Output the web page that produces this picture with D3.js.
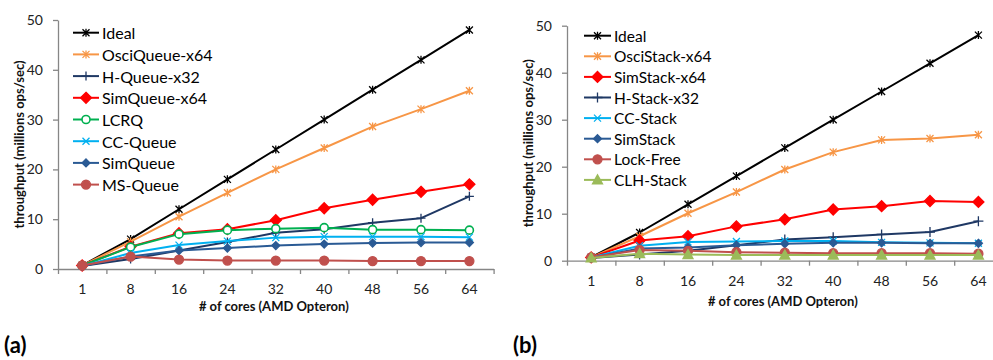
<!DOCTYPE html>
<html>
<head>
<meta charset="utf-8">
<script src="https://cdn.jsdelivr.net/npm/d3@7"></script>
<style>
  body { margin: 0; background: #fff; }
  text { font-family: Lato, "Open Sans", sans-serif; }
</style>
</head>
<body>
<svg id="chart" width="993" height="360"></svg>
<script>
// shared categories / ticks
const cores = ["1", "8", "16", "24", "32", "40", "48", "56", "64"];
const yTicks = [0, 10, 20, 30, 40, 50];

// (a) queues
const queueNames = ["Ideal", "OsciQueue-x64", "H-Queue-x32", "SimQueue-x64", "LCRQ", "CC-Queue", "SimQueue", "MS-Queue"];
const idealQ     = [0.75, 6, 12, 18, 24, 30, 36, 42, 48];
const osciQueue  = [0.7, 5.5, 10.5, 15.3, 20.0, 24.3, 28.6, 32.1, 35.8];
const hQueue     = [0.6, 2.0, 3.7, 5.4, 7.3, 8.0, 9.3, 10.2, 14.6];
const simQueue64 = [0.7, 4.5, 7.2, 8.0, 9.8, 12.2, 13.9, 15.5, 17.0];
const lcrq       = [0.7, 4.4, 7.0, 7.8, 8.1, 8.3, 7.9, 7.9, 7.8];
const ccQueue    = [0.6, 3.2, 4.8, 5.6, 6.3, 6.5, 6.5, 6.5, 6.4];
const simQueue   = [0.6, 2.5, 3.7, 4.2, 4.7, 5.0, 5.2, 5.3, 5.3];
const msQueue    = [0.7, 2.5, 1.9, 1.7, 1.7, 1.7, 1.6, 1.6, 1.6];

// (b) stacks
const stackNames = ["Ideal", "OsciStack-x64", "SimStack-x64", "H-Stack-x32", "CC-Stack", "SimStack", "Lock-Free", "CLH-Stack"];
const idealS     = [0.75, 6, 12, 18, 24, 30, 36, 42, 48];
const osciStack  = [0.7, 5.2, 10.1, 14.6, 19.4, 23.1, 25.7, 26.0, 26.8];
const simStack64 = [0.7, 4.3, 5.2, 7.3, 8.8, 10.9, 11.6, 12.7, 12.5];
const hStack     = [0.6, 1.3, 2.1, 3.3, 4.5, 5.0, 5.6, 6.1, 8.4];
const ccStack    = [0.7, 3.2, 4.0, 4.1, 4.2, 4.2, 3.9, 3.8, 3.7];
const simStack   = [0.6, 2.6, 2.8, 3.3, 3.6, 3.8, 3.8, 3.7, 3.7];
const lockFree   = [0.7, 2.3, 2.1, 1.8, 1.7, 1.6, 1.6, 1.6, 1.5];
const clhStack   = [0.6, 1.5, 1.3, 1.2, 1.2, 1.2, 1.2, 1.2, 1.2];

// styles (colour, marker, marker half-size, filled?)
const queueStyles = [
  { c: "#000000", m: "star", s: 3.5 },
  { c: "#F79646", m: "star", s: 3.5 },
  { c: "#1F3864", m: "plus", s: 4.5 },
  { c: "#FF0000", m: "diamond", s: 5.5, fill: true },
  { c: "#00B050", m: "circle", s: 4, fill: "#fff" },
  { c: "#00B0F0", m: "cross", s: 3.5 },
  { c: "#2A5A94", m: "diamond", s: 4, fill: true },
  { c: "#C0504D", m: "circle", s: 4.5, fill: true }
];
const stackStyles = [
  { c: "#000000", m: "star", s: 3.5 },
  { c: "#F79646", m: "star", s: 3.5 },
  { c: "#FF0000", m: "diamond", s: 5.5, fill: true },
  { c: "#1F3864", m: "plus", s: 5 },
  { c: "#00B0F0", m: "cross", s: 3.5 },
  { c: "#2A5A94", m: "diamond", s: 4, fill: true },
  { c: "#C0504D", m: "circle", s: 4.5, fill: true },
  { c: "#9BBB59", m: "triangle", s: 5, fill: true }
];

const svg = d3.select("#chart");
svg.append("rect").attr("width", 993).attr("height", 360).attr("fill", "#fff");

function markerPath(type, s) {
  switch (type) {
    case "star":
      return `M${-s},${-s}L${s},${s}M${-s},${s}L${s},${-s}M0,${-s - 0.5}V${s + 0.5}`;
    case "plus":
      return `M${-s},0H${s}M0,${-s}V${s}`;
    case "cross":
      return `M${-s},${-s}L${s},${s}M${-s},${s}L${s},${-s}`;
    case "diamond":
      return `M0,${-s}L${s},0L0,${s}L${-s},0Z`;
    case "triangle":
      return `M0,${-s}L${s},${s * 0.8}L${-s},${s * 0.8}Z`;
    case "circle":
      return d3.symbol(d3.symbolCircle, Math.PI * s * s)();
  }
}

function drawMarker(g, st, x, y) {
  g.append("path")
    .attr("transform", `translate(${x},${y})`)
    .attr("d", markerPath(st.m, st.s))
    .attr("fill", st.fill === true ? st.c : (st.fill || "none"))
    .attr("stroke", st.c)
    .attr("stroke-width", st.m === "circle" && st.fill !== true ? 1.6 : 1.3);
}

function drawPanel(p) {
  const g = svg.append("g");

  const x = d3.scaleBand().domain(cores).range([p.x0, p.x0 + cores.length * p.step]);
  const y = d3.scaleLinear().domain([0, 50]).range([p.yBottom, p.yTop]);

  // y axis
  const ya = g.append("g")
    .attr("transform", `translate(${p.x0},0)`)
    .call(d3.axisLeft(y).tickValues(yTicks).tickSize(5).tickSizeOuter(0).tickPadding(10));
  ya.selectAll("path, line").attr("stroke", "#868686").attr("stroke-width", 1.3);
  ya.selectAll("text").attr("font-size", 14).attr("fill", "#222")
    .attr("font-family", "Lato, sans-serif");

  // x axis: labels at band centres, ticks at band borders
  const xa = g.append("g")
    .attr("transform", `translate(0,${p.yBottom})`)
    .call(d3.axisBottom(x).tickSize(0).tickSizeOuter(0).tickPadding(p.labelPad));
  xa.select(".domain").attr("stroke", "#868686").attr("stroke-width", 1.3);
  xa.selectAll("text").attr("font-size", 14).attr("fill", "#222")
    .attr("font-family", "Lato, sans-serif");
  const border = d3.scaleLinear().domain([0, cores.length]).range(x.range());
  const xb = g.append("g")
    .attr("transform", `translate(0,${p.yBottom})`)
    .call(d3.axisBottom(border).tickValues(d3.range(cores.length + 1)).tickSize(5).tickFormat(""));
  xb.select(".domain").remove();
  xb.selectAll("line").attr("stroke", "#868686").attr("stroke-width", 1.3);

  // titles
  g.append("text")
    .attr("transform", `translate(${p.yTitleX},${(p.yTop + p.yBottom) / 2}) rotate(-90)`)
    .attr("text-anchor", "middle").attr("dominant-baseline", "central")
    .attr("font-size", 13).attr("font-weight", "bold").attr("fill", "#111")
    .text("throughput (millions ops/sec)");
  g.append("text")
    .attr("x", (p.x0 + x.range()[1]) / 2 - 2).attr("y", p.xTitleY)
    .attr("text-anchor", "middle").attr("dominant-baseline", "central")
    .attr("font-size", 13).attr("font-weight", "bold").attr("fill", "#111")
    .text("# of cores (AMD Opteron)");
  svg.append("text")
    .attr("x", p.tagX).attr("y", 353)
    .attr("font-size", 22).attr("font-weight", "bold").attr("fill", "#000")
    .text(p.tag);

  // series
  const line = d3.line()
    .x((d, i) => x(cores[i]) + x.bandwidth() / 2)
    .y(d => y(d));
  p.series.forEach((vals, k) => {
    const st = p.styles[k];
    g.append("path").datum(vals)
      .attr("d", line)
      .attr("fill", "none").attr("stroke", st.c).attr("stroke-width", 2)
      .attr("stroke-linejoin", "round");
    vals.forEach((v, i) => drawMarker(g, st, x(cores[i]) + x.bandwidth() / 2, y(v)));
  });

  // legend
  p.names.forEach((name, k) => {
    const st = p.styles[k];
    const ly = p.legY + k * p.legStep;
    g.append("line")
      .attr("x1", p.legX).attr("x2", p.legX + p.legW)
      .attr("y1", ly).attr("y2", ly)
      .attr("stroke", st.c).attr("stroke-width", 2);
    drawMarker(g, st, p.legX + p.legW / 2, ly);
    g.append("text")
      .attr("x", p.legX + p.legW + 3).attr("y", ly)
      .attr("dominant-baseline", "central")
      .attr("font-size", p.legFont).attr("fill", "#000")
      .text(name);
  });
}

drawPanel({
  x0: 58, step: 48.4, yBottom: 269, yTop: 20, labelPad: 15,
  yTitleX: 19, xTitleY: 306, tag: "(a)", tagX: 4,
  names: queueNames, styles: queueStyles,
  series: [idealQ, osciQueue, hQueue, simQueue64, lcrq, ccQueue, simQueue, msQueue],
  legX: 73, legW: 26, legY: 32.7, legStep: 21.7, legFont: 16
});

drawPanel({
  x0: 567, step: 48.4, yBottom: 260.7, yTop: 25.7, labelPad: 15,
  yTitleX: 527.5, xTitleY: 301, tag: "(b)", tagX: 513,
  names: stackNames, styles: stackStyles,
  series: [idealS, osciStack, simStack64, hStack, ccStack, simStack, lockFree, clhStack],
  legX: 584, legW: 27, legY: 35.7, legStep: 20.6, legFont: 15.5
});
</script>
</body>
</html>
